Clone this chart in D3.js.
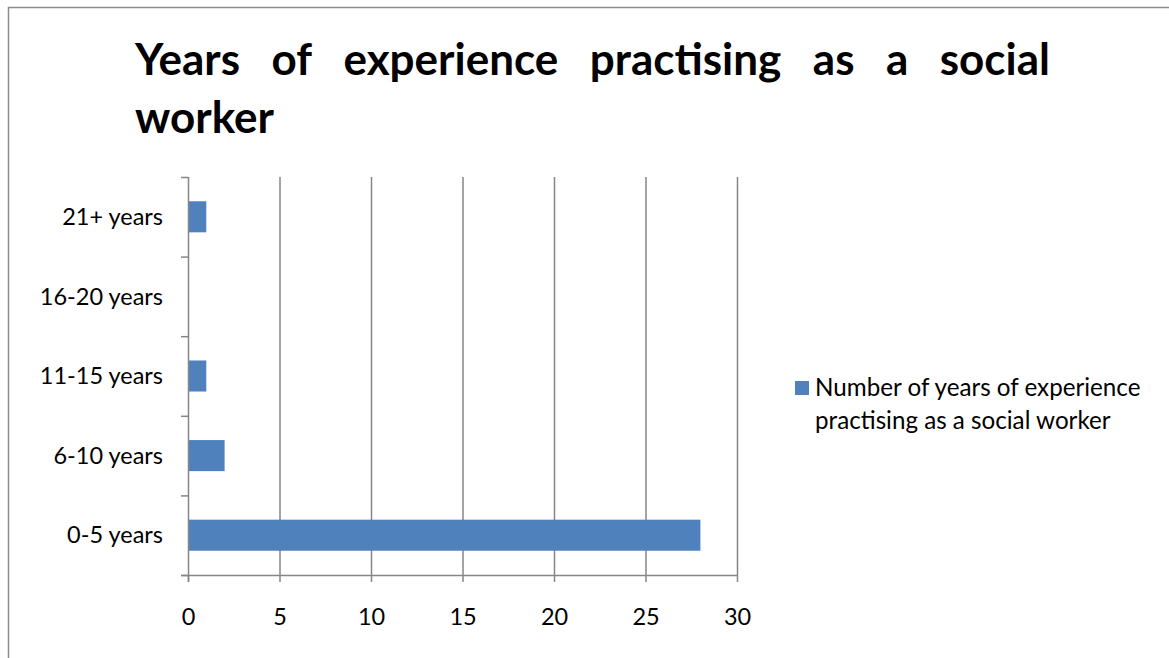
<!DOCTYPE html>
<html><head><meta charset="utf-8">
<script src="https://cdn.jsdelivr.net/npm/d3@7/dist/d3.min.js"></script>
<style>
html,body{margin:0;padding:0;background:#fff;}
svg{display:block;}
text{font-family:Lato,"Open Sans","Liberation Sans",sans-serif;fill:#000;}
</style></head>
<body>
<svg id="chart" width="1169" height="658"></svg>
<script>
const categories = ["0-5 years","6-10 years","11-15 years","16-20 years","21+ years"];
const values = [28, 2, 1, 0, 1];
const xTicks = [0, 5, 10, 15, 20, 25, 30];
const titleLine1 = ["Years","of","experience","practising","as","a","social"];
const titleLine2 = "worker";
const seriesName = ["Number of years of experience","practising as a social worker"];

(function(){
const svg = d3.select("#chart");
const W = 1169, H = 658;
const barColor = "#4F81BD", gridColor = "#868686";
const fs = 23.5;

// outer border
svg.append("path").attr("d", `M8.5,${H} L8.5,7.5 L${W},7.5`).attr("fill","none").attr("stroke","#8c8c8c").attr("stroke-width",1.5);

const pLeft = 188, pRight = 737, pTop = 177, pBottom = 575;
const x = d3.scaleLinear().domain([0,30]).range([pLeft,pRight]);
const y = d3.scaleBand().domain(categories.slice().reverse()).range([pTop,pBottom]).paddingInner(0.61).paddingOuter(0.305);

// gridlines
svg.append("g").selectAll("line").data(xTicks.slice(1)).join("line")
  .attr("x1",d=>x(d)+0.5).attr("x2",d=>x(d)+0.5).attr("y1",pTop).attr("y2",pBottom)
  .attr("stroke",gridColor).attr("stroke-width",1.5);

// bars
svg.append("g").selectAll("rect").data(categories.map((c,i)=>({c,v:values[i]}))).join("rect")
  .attr("x",x(0)).attr("y",d=>y(d.c)).attr("width",d=>x(d.v)-x(0)).attr("height",y.bandwidth())
  .attr("fill",barColor);

// x axis
const xAxis = svg.append("g").attr("transform",`translate(0,${pBottom})`)
  .call(d3.axisBottom(x).tickValues(xTicks).tickSize(7).tickPadding(26).tickSizeOuter(0));
xAxis.select(".domain").attr("stroke",gridColor).attr("stroke-width",1.5).attr("d",`M${pLeft-7},0.5H${pRight}`);
xAxis.selectAll(".tick line").attr("stroke",gridColor).attr("stroke-width",1.5).attr("y1",0);
xAxis.selectAll(".tick text").attr("font-size",fs).attr("fill","#000").style("font-family","Lato,'Open Sans',sans-serif");

// y axis
const yTickPos = d3.range(categories.length+1).map(i=>pTop + i*(pBottom-pTop)/categories.length);
svg.append("line").attr("x1",pLeft+0.5).attr("x2",pLeft+0.5).attr("y1",pTop).attr("y2",pBottom+7).attr("stroke",gridColor).attr("stroke-width",1.5);
svg.append("g").selectAll("line").data(yTickPos).join("line")
  .attr("x1",pLeft-7).attr("x2",pLeft).attr("y1",d=>d+0.5).attr("y2",d=>d+0.5)
  .attr("stroke",gridColor).attr("stroke-width",1.5);
svg.append("g").selectAll("text").data(categories).join("text")
  .attr("x",163).attr("y",d=>y(d)+y.bandwidth()/2).attr("dy","0.35em")
  .attr("text-anchor","end").attr("font-size",fs).text(d=>d);

// title (justified first line)
const tg = svg.append("g");
const tWords = tg.selectAll("text.w").data(titleLine1).join("text").attr("class","w")
  .attr("y",75).attr("font-size",44).attr("font-weight","bold").text(d=>d);
const widths = []; tWords.each(function(){widths.push(this.getComputedTextLength());});
const tx0 = 135, tx1 = 1050;
const gap = (tx1-tx0-d3.sum(widths))/(titleLine1.length-1);
let cx = tx0;
tWords.attr("x",(d,i)=>{const p=cx; cx+=widths[i]+gap; return p;});
tg.append("text").attr("x",tx0).attr("y",133).attr("font-size",44).attr("font-weight","bold").text(titleLine2);

// legend
svg.append("rect").attr("x",795).attr("y",381).attr("width",14).attr("height",14).attr("fill",barColor);
svg.append("g").selectAll("text").data(seriesName).join("text")
  .attr("x",815).attr("y",(d,i)=>396+i*33).attr("font-size",24.2).text(d=>d);
})();
</script>
</body></html>
